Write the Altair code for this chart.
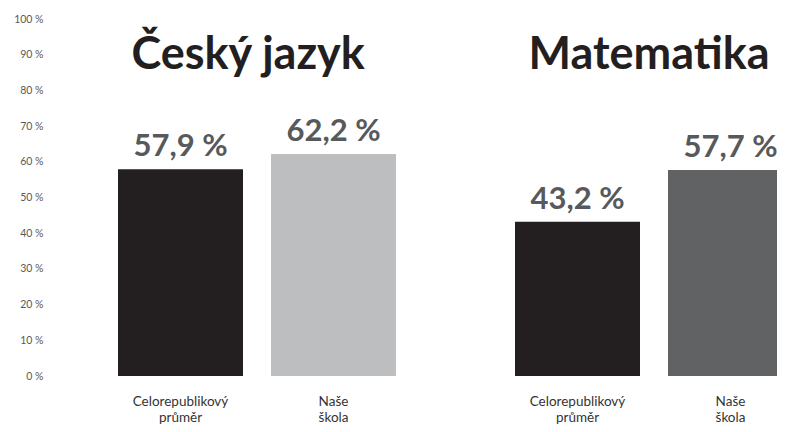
import altair as alt
import pandas as pd

subjects = ["Český jazyk", "Matematika"]
groups = ["Celorepublikový průměr", "Naše škola"]
cj_values = [57.9, 62.2]
m_values = [43.2, 57.7]
bar_colors = ["#231f20", "#bcbec0", "#231f20", "#616264"]
y_ticks = [0, 10, 20, 30, 40, 50, 60, 70, 80, 90, 100]

FONT = "Lato"

rows = []
for subj, vals in zip(subjects, [cj_values, m_values]):
    for g, v in zip(groups, vals):
        rows.append({
            "subject": subj,
            "group": g,
            "key": subj + "|" + g,
            "value": v,
            "label": f"{v:.1f} %".replace(".", ","),
        })
df = pd.DataFrame(rows)
keys = list(df["key"])

x = alt.X("subject:N", sort=subjects, axis=None,
          scale=alt.Scale(range=[0, 797], paddingInner=0.030, paddingOuter=0.0188))
xo = alt.XOffset("group:N", sort=groups,
                 scale=alt.Scale(paddingInner=0.183, paddingOuter=0.35))
y = alt.Y("value:Q", scale=alt.Scale(domain=[0, 100], nice=False),
          axis=alt.Axis(title=None, domain=False, ticks=False, grid=False,
                        values=y_ticks, labelExpr="datum.value + ' %'",
                        labelFont=FONT, labelFontSize=10.5, labelColor="#595959",
                        labelPadding=14))

base = alt.Chart(df)
bars = base.mark_bar().encode(
    x=x, xOffset=xo, y=y,
    color=alt.Color("key:N", scale=alt.Scale(domain=keys, range=bar_colors), legend=None),
)
values_text = base.mark_text(dy=-13, baseline="alphabetic", font=FONT, fontWeight="bold",
                             fontSize=31, color="#58595b").encode(
    x=x, xOffset=xo, y=y, text="label:N")
cat_text = base.mark_text(baseline="alphabetic", font=FONT, fontSize=13.5, color="#333333",
                          lineBreak=" ", lineHeight=16).encode(
    x=x, xOffset=xo, y=alt.value(387), text="group:N")
titles = alt.Chart(pd.DataFrame({"subject": subjects})).mark_text(
    align="left", baseline="alphabetic", font=FONT, fontWeight="bold",
    fontSize=45, color="#231f20", dx=67,
).encode(x=alt.X("subject:N", sort=subjects, bandPosition=0, axis=None),
         y=alt.value(50), text="subject:N")

chart = alt.layer(bars, values_text, cat_text, titles).properties(
    width=720, height=357,
    autosize=alt.AutoSizeParams(type="none"),
    padding={"left": 49, "top": 11, "right": 0, "bottom": 48},
).configure_view(stroke=None)

chart.save("out.html", embed_options={"renderer": "svg", "actions": False})
